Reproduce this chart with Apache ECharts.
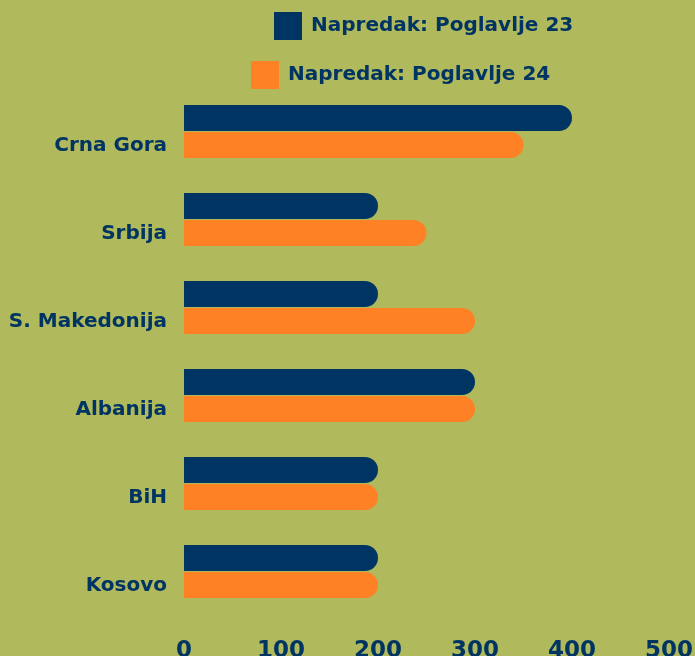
<!DOCTYPE html>
<html>
<head>
<meta charset="utf-8">
<script src="https://cdn.jsdelivr.net/npm/echarts@6/dist/echarts.min.js"></script>
<style>
  html, body { margin: 0; padding: 0; background: #b0b95b; }
  #chart { width: 695px; height: 656px; }
</style>
</head>
<body>
<div id="chart"></div>
<script>
const countries = ['Crna Gora', 'Srbija', 'S. Makedonija', 'Albanija', 'BiH', 'Kosovo'];
const pogl23 = [400, 200, 200, 300, 200, 200];
const pogl24 = [350, 250, 300, 300, 200, 200];
const xTicks = [0, 100, 200, 300, 400, 500];

const navy = '#003463';
const orange = '#fe8126';
const font = 'DejaVu Sans';

const chart = echarts.init(document.getElementById('chart'));
const legendText = {
  color: navy, fontSize: 20, fontWeight: 'bold', fontFamily: font,
  padding: [0, 0, 0, 4]
};
chart.setOption({
  backgroundColor: '#b0b95b',
  animation: false,
  legend: [{
    data: ['Napredak: Poglavlje 23'],
    left: 274, top: 12, padding: 0,
    itemWidth: 28, itemHeight: 28, itemGap: 9,
    icon: 'rect',
    textStyle: legendText
  }, {
    data: ['Napredak: Poglavlje 24'],
    left: 251, top: 61, padding: 0,
    itemWidth: 28, itemHeight: 28, itemGap: 9,
    icon: 'rect',
    textStyle: legendText
  }],
  grid: {
    left: 184, right: 26, top: 87.5, bottom: 40.5,
    containLabel: false, outerBoundsMode: 'none'
  },
  xAxis: {
    type: 'value',
    min: xTicks[0],
    max: xTicks[xTicks.length - 1],
    interval: 100,
    splitLine: { show: false },
    axisLine: { show: false },
    axisTick: { show: false },
    axisLabel: {
      color: navy, fontSize: 23, fontWeight: 'bold', fontFamily: font, margin: 24
    }
  },
  yAxis: {
    type: 'category',
    data: countries,
    inverse: true,
    axisLine: { show: false },
    axisTick: { show: false },
    axisLabel: {
      color: navy, fontSize: 20, fontWeight: 'bold', fontFamily: font, margin: 17,
      verticalAlign: 'top', lineHeight: 28
    }
  },
  series: [{
    name: 'Napredak: Poglavlje 23',
    type: 'bar',
    data: pogl23,
    barWidth: 26,
    barGap: '4%',
    itemStyle: { color: navy, borderRadius: [0, 13, 13, 0] }
  }, {
    name: 'Napredak: Poglavlje 24',
    type: 'bar',
    data: pogl24,
    barWidth: 26,
    itemStyle: { color: orange, borderRadius: [0, 13, 13, 0] }
  }]
});
</script>
</body>
</html>
